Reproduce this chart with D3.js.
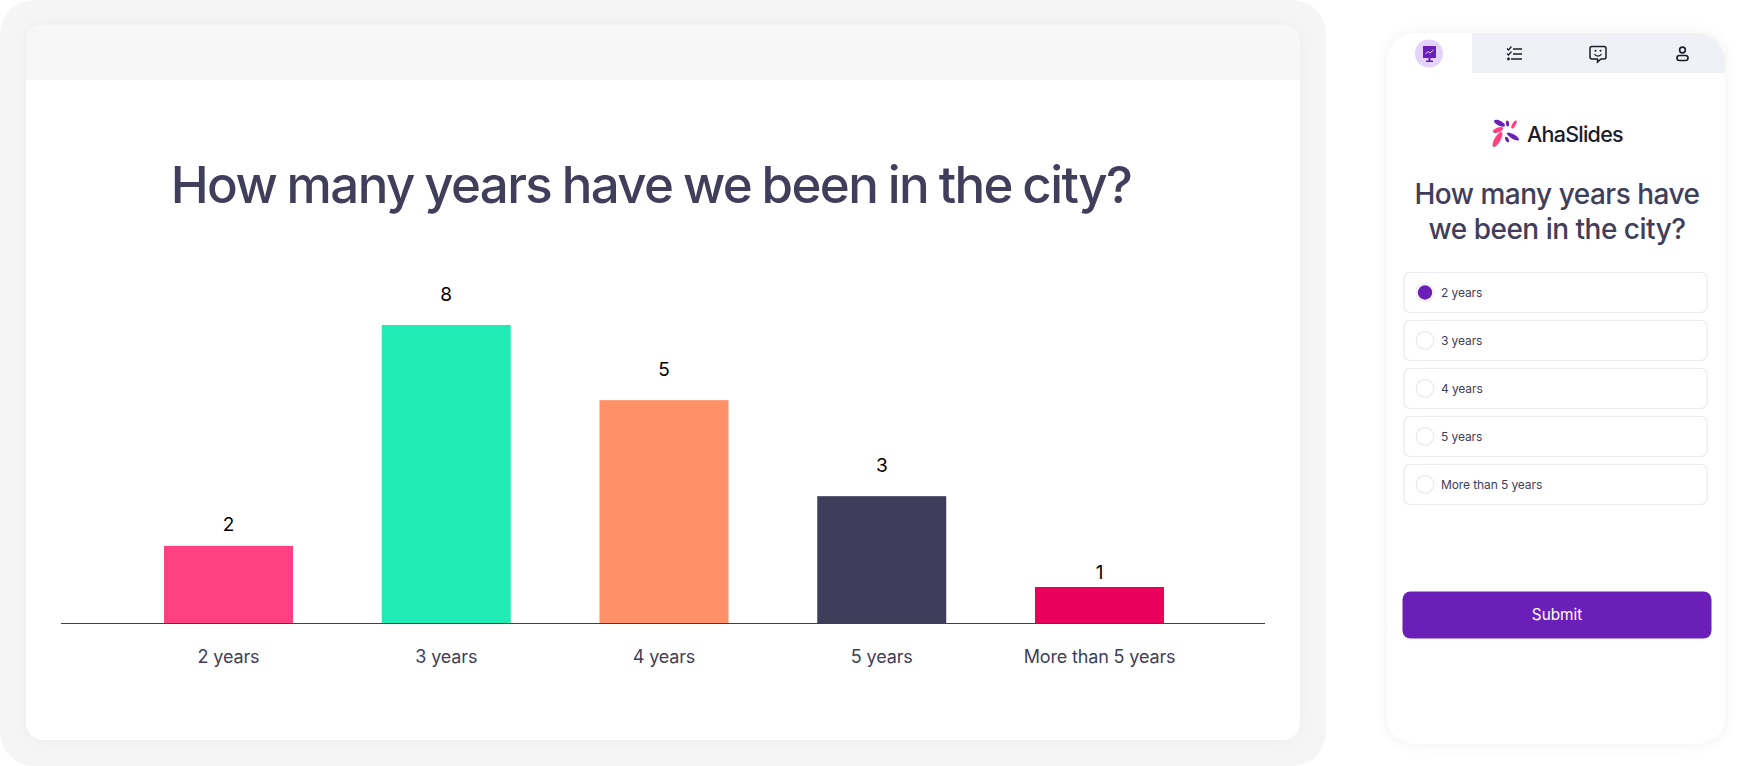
<!DOCTYPE html>
<html>
<head>
<meta charset="utf-8">
<script src="https://cdn.jsdelivr.net/npm/d3@7"></script>
<style>
  html, body { margin: 0; padding: 0; background: #fff; overflow: hidden; }
  svg { display: block; }
  text { font-family: Inter, "Noto Sans", sans-serif; }
</style>
</head>
<body>
<svg id="chart" width="1744" height="766"></svg>
<script>
const title = 'How many years have we been in the city?';
const phoneTitleLines = ['How many years have', 'we been in the city?'];
const categories = ['2 years', '3 years', '4 years', '5 years', 'More than 5 years'];
// the numbers printed over the bars
const responses = [2, 8, 5, 3, 1];
// bar lengths as drawn in the picture, they are not quite in proportion to the printed numbers
const barLengths = [2.09, 8, 5.99, 3.42, 0.99];
const barColors = ['#ff4081', '#20ebb4', '#ff9067', '#3f3e5a', '#e8005a'];

const ink = '#403e5a';
const purple = '#6b1fb9';
const pink = '#ff4081';
const dark = '#1c1c2a';
const svg = d3.select('#chart');

const defs = svg.append('defs');
defs.append('filter').attr('id', 'soft')
  .attr('x', '-20%').attr('y', '-20%').attr('width', '140%').attr('height', '140%')
  .append('feDropShadow').attr('dx', 0).attr('dy', 0).attr('stdDeviation', 7)
  .attr('flood-color', '#000').attr('flood-opacity', 0.06);
defs.append('filter').attr('id', 'cardShadow')
  .attr('x', '-5%').attr('y', '-5%').attr('width', '110%').attr('height', '110%')
  .append('feDropShadow').attr('dx', 0).attr('dy', 0).attr('stdDeviation', 8)
  .attr('flood-color', '#000').attr('flood-opacity', 0.035);

// slide panel
svg.append('rect').attr('x', 0).attr('y', 0).attr('width', 1326).attr('height', 766)
  .attr('rx', 34).attr('fill', '#f5f5f5');
svg.append('rect').attr('x', 26).attr('y', 25).attr('width', 1274).attr('height', 715)
  .attr('rx', 17).attr('fill', '#fff').attr('filter', 'url(#cardShadow)');
svg.append('path').attr('d', 'M26 80V42a17 17 0 0 1 17-17H1283a17 17 0 0 1 17 17V80Z').attr('fill', '#f7f7f7');

svg.append('text').attr('x', 651).attr('y', 203).attr('text-anchor', 'middle')
  .attr('font-size', 51).attr('font-weight', 500)
  .attr('letter-spacing', -1.6).attr('word-spacing', -1.5)
  .attr('fill', ink).text(title);

// bars
const xScale = d3.scaleBand()
  .domain(categories)
  .range([164, 1164])
  .paddingInner(0.4076)
  .paddingOuter(0);

const yScale = d3.scaleLinear()
  .domain([0, 8])
  .range([624, 325]);

// the printed numbers sit closer to the short bars than to the tall ones
const labelGap = d3.scaleLinear()
  .domain([0, 3.42])
  .range([1, 24])
  .clamp(true);

svg.selectAll('.bar')
  .data(categories)
  .enter()
  .append('rect')
  .classed('bar', true)
  .attr('x', d => xScale(d))
  .attr('y', (d, i) => yScale(barLengths[i]))
  .attr('width', xScale.bandwidth())
  .attr('height', (d, i) => yScale(0) - yScale(barLengths[i]))
  .attr('fill', (d, i) => barColors[i]);

svg.selectAll('.count')
  .data(categories)
  .enter()
  .append('text')
  .classed('count', true)
  .attr('x', d => xScale(d) + xScale.bandwidth() / 2)
  .attr('y', (d, i) => yScale(barLengths[i]) - labelGap(barLengths[i]))
  .attr('text-anchor', 'middle')
  .attr('font-size', 19)
  .attr('fill', '#000')
  .text((d, i) => responses[i]);

const axis = svg.append('g')
  .attr('transform', `translate(0,${yScale(0)})`)
  .call(d3.axisBottom(xScale).tickSize(0).tickPadding(26));
axis.select('.domain').remove();
axis.selectAll('text')
  .attr('font-size', 18)
  .attr('letter-spacing', -0.15)
  .attr('fill', ink)
  .style('font-family', 'Inter, sans-serif');

svg.append('rect').attr('x', 61).attr('width', 1204)
  .attr('y', yScale(0) - 1).attr('height', 1)
  .attr('fill', '#403e50');

// phone
const phone = svg.append('g');
phone.append('rect').attr('x', 1387).attr('y', 33).attr('width', 338).attr('height', 711)
  .attr('rx', 28).attr('fill', '#fff').attr('filter', 'url(#soft)');
phone.append('path').attr('d', 'M1472 33H1697a28 28 0 0 1 28 28V73H1472Z').attr('fill', '#f0f1f6');

phone.append('circle').attr('cx', 1429).attr('cy', 53.5).attr('r', 14).attr('fill', '#e4d2fb');
// board icon
phone.append('path').attr('d', 'M1423 46H1436V58H1430.5V60.5H1433V62H1426V60.5H1428.5V58H1423Z').attr('fill', purple);
phone.append('path').attr('d', 'M1425.5 54L1428 51.5L1430 53L1433.5 50').attr('fill', 'none').attr('stroke', '#e4d2fb').attr('stroke-width', 1);

// list icon
phone.append('path').attr('fill', 'none').attr('stroke', dark).attr('stroke-width', 1.7)
  .attr('d', 'M1513 49H1522 M1513 54H1522 M1511 59H1522');
phone.append('path').attr('fill', 'none').attr('stroke', dark).attr('stroke-width', 1.2)
  .attr('d', 'M1507 48.5L1508.5 50L1511.5 46.5 M1507 53.5L1508.5 55L1511.5 51.5');
phone.append('circle').attr('cx', 1508.5).attr('cy', 59).attr('r', 1.4).attr('fill', dark);

// chat icon
phone.append('path').attr('fill', 'none').attr('stroke', dark).attr('stroke-width', 1.5)
  .attr('d', 'M1592 46.5H1604a2 2 0 0 1 2 2V57a2 2 0 0 1 -2 2H1601L1597.5 62V59H1592a2 2 0 0 1 -2 -2V48.5a2 2 0 0 1 2 -2Z');
phone.append('path').attr('fill', 'none').attr('stroke', dark).attr('stroke-width', 1.2)
  .attr('d', 'M1594.5 54A4 4 0 0 0 1601.5 54');
phone.append('circle').attr('cx', 1595.5).attr('cy', 50.8).attr('r', 1).attr('fill', dark);
phone.append('circle').attr('cx', 1600.5).attr('cy', 50.8).attr('r', 1).attr('fill', dark);

// person icon
phone.append('circle').attr('cx', 1682.5).attr('cy', 50).attr('r', 2.9).attr('fill', 'none').attr('stroke', dark).attr('stroke-width', 1.6);
phone.append('rect').attr('x', 1677).attr('y', 55.5).attr('width', 11).attr('height', 5).attr('rx', 2.4)
  .attr('fill', 'none').attr('stroke', dark).attr('stroke-width', 1.6);

// logo
const petals = [
  [1499.5, 123.3, 26, 6, 2.5, purple],
  [1507.5, 123.5, 85, 3, 1.6, purple],
  [1514, 124.5, -62, 4.5, 1.8, pink],
  [1498, 130, -22, 5.5, 2.5, pink],
  [1497.5, 139.5, -60, 8.5, 3, pink],
  [1513, 136.5, 30, 7, 2.2, purple],
  [1507, 139.5, 62, 3, 1.6, purple]
];
petals.forEach(p => {
  phone.append('ellipse').attr('rx', p[3]).attr('ry', p[4])
    .attr('transform', `translate(${p[0]},${p[1]}) rotate(${p[2]})`).attr('fill', p[5]);
});
phone.append('text').attr('x', 1527).attr('y', 141.5)
  .attr('font-size', 21.5).attr('font-weight', 500).attr('letter-spacing', -0.75)
  .attr('fill', dark).text('AhaSlides');

phone.selectAll('.ptitle')
  .data(phoneTitleLines)
  .enter()
  .append('text')
  .classed('ptitle', true)
  .attr('x', 1557)
  .attr('y', (d, i) => 204 + i * 35)
  .attr('text-anchor', 'middle')
  .attr('font-size', 28)
  .attr('font-weight', 500)
  .attr('letter-spacing', -0.5)
  .attr('fill', ink)
  .text(d => d);

// answer options
const optionY = d3.scaleBand()
  .domain(categories)
  .range([272.5, 504.5])
  .paddingInner(8 / 48)
  .paddingOuter(0);

const options = phone.selectAll('.option')
  .data(categories)
  .enter()
  .append('g')
  .classed('option', true)
  .attr('transform', d => `translate(0,${optionY(d)})`);

options.append('rect')
  .attr('x', 1404).attr('y', 0)
  .attr('width', 303).attr('height', optionY.bandwidth())
  .attr('rx', 6)
  .attr('fill', '#fff').attr('stroke', '#e9e9f1').attr('stroke-width', 1.2);

options.append('circle')
  .attr('cx', 1425).attr('cy', optionY.bandwidth() / 2)
  .attr('r', 8.8)
  .attr('fill', '#fff').attr('stroke', '#e9e9f1').attr('stroke-width', 1.2);

options.filter((d, i) => i === 0).append('circle')
  .attr('cx', 1425).attr('cy', optionY.bandwidth() / 2)
  .attr('r', 7.2)
  .attr('fill', purple);

options.append('text')
  .attr('x', 1441).attr('y', optionY.bandwidth() / 2 + 4.5)
  .attr('font-size', 12)
  .attr('letter-spacing', -0.1)
  .attr('fill', ink)
  .text(d => d);

phone.append('rect').attr('x', 1402.5).attr('y', 591.5).attr('width', 309).attr('height', 47)
  .attr('rx', 8).attr('fill', purple);
phone.append('text').attr('x', 1557).attr('y', 620).attr('text-anchor', 'middle')
  .attr('font-size', 15.3).attr('fill', '#fff').text('Submit');
</script>
</body>
</html>
